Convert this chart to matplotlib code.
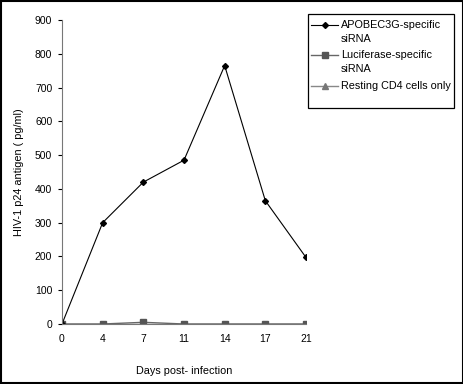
import matplotlib
matplotlib.use("Agg")
import matplotlib.pyplot as plt
from matplotlib.patches import Rectangle
from matplotlib.lines import Line2D

plt.rcParams['font.family'] = ['Liberation Sans', 'DejaVu Sans']

days = ["0", "4", "7", "11", "14", "17", "21"]
apobec = [0, 300, 420, 485, 765, 365, 197]
luciferase = [0, 0, 5, 0, 0, 0, 0]
resting = [0, 0, 0, 0, 0, 0, 0]
yticks = [0, 100, 200, 300, 400, 500, 600, 700, 800, 900]
series_labels = ["APOBEC3G-specific\nsiRNA", "Luciferase-specific\nsiRNA", "Resting CD4 cells only"]

W, H = 464, 384
fig = plt.figure(figsize=(W / 100, H / 100), dpi=100)
ax = fig.add_axes([62 / W, 1 - 324 / H, 244 / W, 304 / H])
x = list(range(len(days)))

styles = [
    dict(color='black', lw=0.8, marker='D', ms=3.0, mfc='black', mec='black'),
    dict(color='#666666', lw=1.0, marker='s', ms=5, mfc='#555555', mec='#555555'),
    dict(color='#888888', lw=1.0, marker='^', ms=4, mfc='#777777', mec='#777777'),
]
series = [apobec, luciferase, resting]
for idx in [2, 1, 0]:
    ax.plot(x, series[idx], **styles[idx])

ax.set_xlim(0, 6)
ax.set_ylim(0, 900)
ax.set_xticks(x)
ax.set_xticklabels(days)
ax.set_yticks(yticks)
for s in ['top', 'right']:
    ax.spines[s].set_visible(False)
for s in ['left', 'bottom']:
    ax.spines[s].set_color('#777777')
    ax.spines[s].set_linewidth(0.8)
ax.tick_params(axis='y', direction='out', length=3, color='black', labelsize=7.5, pad=4)
ax.tick_params(axis='x', length=0, labelsize=7.5, pad=7)
ax.set_xlabel('Days post- infection', fontsize=7.8, labelpad=16)
ax.set_ylabel('HIV-1 p24 antigen ( pg/ml)', fontsize=7.8, labelpad=8)
ax.patch.set_visible(False)

# manual legend (Excel style)
def fx(px):
    return px / W

def fy(py):
    return 1 - py / H

fig.patches.append(Rectangle((fx(308), fy(108)), fx(454) - fx(308), fy(14) - fy(108),
                             transform=fig.transFigure, fill=False, edgecolor='black', lw=0.9))
rows = [25, 55, 86]
for i, ry in enumerate(rows):
    st = styles[i]
    ln = Line2D([fx(311), fx(324.5), fx(338)], [fy(ry)] * 3, transform=fig.transFigure,
                markevery=[1], **st)
    fig.lines.append(ln)
    fig.text(fx(341), fy(ry) + 5 / H, series_labels[i], fontsize=7.8, va='top', ha='left',
             linespacing=1.5)

fig.patches.append(Rectangle((0.002, 0.003), 0.996, 0.994, transform=fig.transFigure,
                             fill=False, edgecolor='black', lw=1.5))
fig.savefig('out.png', dpi=100)
